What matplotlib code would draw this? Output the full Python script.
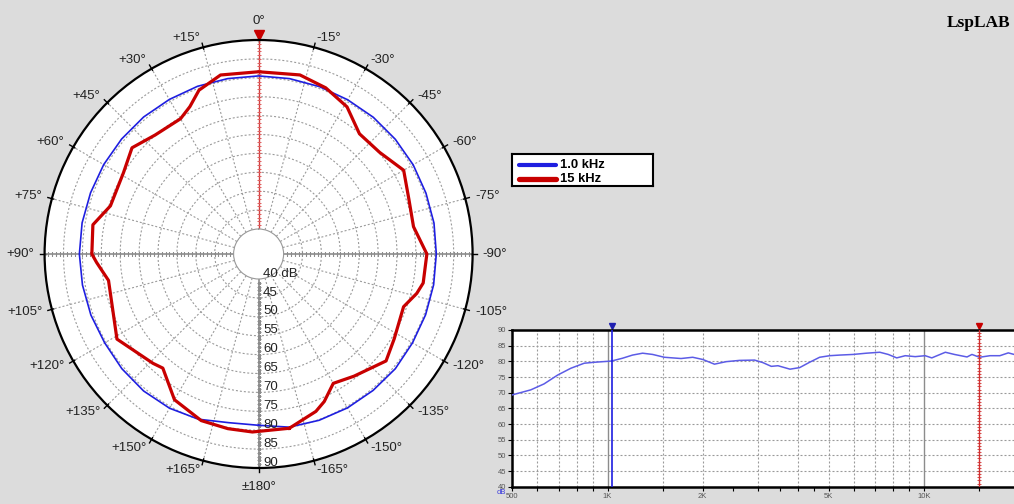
import numpy as np
import matplotlib
matplotlib.use('Agg')
import matplotlib.pyplot as plt
from matplotlib.patches import Ellipse

plt.rcParams['font.family'] = ['Liberation Sans', 'DejaVu Sans']

# polar data (deg, + = left side) and level in dB
blue_angles = [-180, -170, -160, -150, -140, -130, -120, -110, -100, -90, -80, -70, -60,
               -50, -40, -30, -20, -10, 0, 10, 20, 30, 40, 50, 60, 70, 80, 90, 100,
               110, 120, 130, 140, 150, 160, 170]
blue_db = [78.7, 79.9, 80.2, 80.4, 80.5, 80.6, 80.4, 80.4, 80.4, 80.4, 80.5, 80.5, 80.6,
           80.6, 80.6, 80.5, 80.5, 80.5, 80.5, 80.5, 80.6, 80.6, 80.7, 80.7, 80.7, 80.7,
           80.8, 80.8, 80.7, 80.6, 80.4, 80.6, 80.7, 80.5, 79.9, 78.7]

red_angles = [-170, -160, -156, -150, -142, -130, -122, -110, -104, -100, -90, -80, -70,
              -60, -50, -40, -31, -22, -13, 0, 12, 20, 25, 30, 41, 50, 59, 72, 80, 90,
              93, 100, 121, 136, 140, 150, 161, 170, 178]
red_db = [80.2, 77.7, 76.1, 72.9, 74.4, 77.4, 75.7, 74.2, 76.5, 77.6, 77.9, 75.0, 75.7,
          77.7, 75.2, 74.9, 78.8, 80.8, 82.0, 81.6, 81.8, 79.5, 76.4, 74.7, 75.1, 77.1,
          75.1, 74.6, 77.9, 77.5, 76.3, 73.7, 77.1, 73.6, 72.8, 77.9, 80.0, 80.3, 80.5]

db_rings = [45, 50, 55, 60, 65, 70, 75, 80, 85]
db_labels = ['40 dB', '45', '50', '55', '60', '65', '70', '75', '80', '85', '90']
db_label_vals = [40, 45, 50, 55, 60, 65, 70, 75, 80, 85, 90]
angle_ticks = list(range(-165, 181, 15))

legend_labels = ['1.0 kHz', '15 kHz']

# frequency response (Hz, dB)
freq = [500, 572, 630, 695, 766, 844, 908, 1000, 1030, 1116, 1200, 1291, 1389, 1512,
        1708, 1859, 2000, 2178, 2373, 2613, 2917, 3098, 3295, 3459, 3776, 4050, 4354,
        4685, 5042, 5424, 5975, 6588, 7261, 7720, 8212, 8736, 9397, 10100, 10600, 11700,
        12500, 13700, 14200, 15000, 16200, 17400, 18500, 19300, 20000]
resp = [69.3, 70.9, 72.8, 75.6, 77.8, 79.4, 79.7, 80.0, 80.1, 81.0, 82.0, 82.6, 82.2, 81.3,
        80.9, 81.3, 80.6, 79.1, 79.9, 80.3, 80.4, 79.6, 78.4, 78.6, 77.5, 78.0, 79.7,
        81.3, 81.8, 82.0, 82.2, 82.6, 82.9, 82.2, 81.1, 81.8, 81.5, 81.8, 81.1, 82.9,
        82.2, 81.4, 82.2, 81.3, 81.8, 81.8, 82.7, 82.2, 82.4]
cursor_blue = 1030
cursor_red = 15000
freq_major = [500, 1000, 2000, 5000, 10000, 20000]
freq_major_labels = ['500', '1K', '2K', '5K', '10K', 'Hz']
freq_minor = [600, 700, 800, 900, 1500, 2500, 3000, 3500, 4000, 4500,
              6000, 7000, 8000, 9000, 15000]
grid_dashed = [600, 700, 800, 900, 1500, 2000, 3000, 4000, 5000, 6000, 7000, 8000, 9000]
grid_solid = [1000, 10000]
resp_db_ticks = [40, 45, 50, 55, 60, 65, 70, 75, 80, 85, 90]

BG = '#dcdcdc'
GRID = '#9a9a9a'
RED = '#c80000'
BLUE = '#1e1ee0'
dash = (0, (1.8, 1.8))

fig = plt.figure(figsize=(10.14, 5.04), dpi=100, facecolor=BG)

# white hole in the middle of the polar plot
fig.add_artist(Ellipse((258.6 / 1014, 1 - 254 / 504), 2 * 25 / 1014, 2 * 25 / 504,
                       transform=fig.transFigure, facecolor='white', edgecolor='none',
                       zorder=-1))

ax = fig.add_axes([0.04398, 0.07143, 0.42209, 0.84921], projection='polar')
ax.set_theta_zero_location('N')
ax.set_theta_direction(1)
ax.set_rlim(40, 90)
ax.set_rorigin(33.386)
ax.set_xticks([])
ax.set_yticks([])
ax.grid(False)
ax.spines['polar'].set_color('black')
ax.spines['polar'].set_linewidth(1.6)
ax.spines['inner'].set_color('#999999')
ax.spines['inner'].set_linewidth(0.8)

th = np.linspace(0, 2 * np.pi, 721)
for d in db_rings:
    ax.plot(th, np.full_like(th, d), color=GRID, lw=0.8, ls=dash)
for a in range(0, 360, 15):
    r = np.deg2rad(a)
    if a % 90:
        ax.plot([r, r], [40, 90], color=GRID, lw=0.8, ls=dash)
    ax.plot([r, r], [89.5, 91.1], color='black', lw=1, clip_on=False)

ticks_r = np.arange(41, 90)
for a, mk in [(90, '|'), (270, '|'), (180, '_')]:
    r = np.deg2rad(a)
    ax.plot([r, r], [40, 90], color='#8c8c8c', lw=1.2)
    ax.plot(np.full_like(ticks_r, r, dtype=float), ticks_r, ls='none', marker=mk,
            ms=3.5, mew=0.8, color='#8c8c8c')
ax.plot([0, 0], [40, 90], color='#d04040', lw=1.0)
ax.plot(np.zeros_like(ticks_r, dtype=float), ticks_r, ls='none', marker='_', ms=3.5,
        mew=0.7, color='#e06060')
ax.plot([0], [91.4], marker='v', ms=6.5, color=RED, clip_on=False)

b_t = np.deg2rad(blue_angles + [blue_angles[0] + 360])
b_r = blue_db + [blue_db[0]]
ax.plot(b_t, b_r, color=BLUE, lw=1.2, zorder=5)
r_t = np.deg2rad(red_angles + [red_angles[0] + 360])
r_r = red_db + [red_db[0]]
ax.plot(r_t, r_r, color=RED, lw=2.3, zorder=6)

for v, lab in zip(db_label_vals, db_labels):
    ax.annotate(lab, xy=(np.pi, v), xytext=(3.3, -0.5), textcoords='offset points',
                ha='left', va='bottom', fontsize=9.5, color='#222222', zorder=7)

for a in angle_ticks:
    r = np.deg2rad(a)
    if a == 0:
        ax.text(r, 95.0, '0°', ha='center', va='center', fontsize=9.5, color='#222222')
    elif a == 180:
        ax.text(r, 95.0, '±180°', ha='center', va='center', fontsize=9.5, color='#222222')
    elif a > 0:
        ax.text(r, 92.65, '+%d°' % a, ha='right', va='center', fontsize=9.5, color='#222222')
    else:
        ax.text(r, 92.65, '-%d°' % -a, ha='left', va='center', fontsize=9.5, color='#222222')

# legend box
lax = fig.add_axes([511.7 / 1014, 1 - 185.7 / 504, 141 / 1014, 31.7 / 504])
lax.set_xlim(0, 1)
lax.set_ylim(0, 1)
lax.set_xticks([])
lax.set_yticks([])
for s in lax.spines.values():
    s.set_linewidth(1.5)
    s.set_color('black')
for yy, col, lw, lab in [(0.66, BLUE, 3.0, legend_labels[0]), (0.22, RED, 3.8, legend_labels[1])]:
    lax.plot([0.05, 0.315], [yy, yy], color=col, lw=lw, solid_capstyle='round')
    lax.text(0.34, yy, lab, fontsize=9.4, fontweight='bold', va='center', ha='left')

fig.text(1010 / 1014, 1 - 23 / 504, 'LspLAB', ha='right', va='center',
         family=['Liberation Serif', 'DejaVu Serif'], fontweight='bold', fontsize=12.5)

# frequency response
ax2 = fig.add_axes([512.3 / 1014, 17.3 / 504, (1019 - 512.3) / 1014, 156.7 / 504])
ax2.set_xscale('log')
ax2.set_xlim(500, 20000)
ax2.set_ylim(40, 90)
for d in resp_db_ticks[1:-1]:
    ax2.axhline(d, color=GRID, lw=0.8, ls=dash)
for f in grid_dashed:
    ax2.axvline(f, color=GRID, lw=0.8, ls=dash)
for f in grid_solid:
    ax2.axvline(f, color='#8c8c8c', lw=1.0)
ax2.plot(freq, resp, color='#5c5ce6', lw=1.1, zorder=4)
ax2.axvline(cursor_blue, color=BLUE, lw=1.2, zorder=5)
ax2.plot([cursor_blue], [91.3], marker='v', ms=5, color='#2020b0', clip_on=False)
ax2.axvline(cursor_red, color='#d03030', lw=1.0, zorder=5)
ax2.plot(np.full(49, cursor_red), np.arange(41, 90), ls='none', marker='_', ms=2.5,
         mew=0.6, color='#d03030', zorder=5)
ax2.plot([cursor_red], [91.3], marker='v', ms=5, color=RED, clip_on=False)
ax2.set_xticks(freq_major)
ax2.set_xticklabels(freq_major_labels)
ax2.set_xticks(freq_minor, minor=True)
ax2.xaxis.set_minor_formatter(plt.NullFormatter())
ax2.set_yticks(resp_db_ticks)
ax2.tick_params(axis='both', which='both', direction='out', length=3, width=0.8,
                labelsize=5.5, labelcolor='#555555', pad=1.5)
for s in ['top', 'bottom', 'left']:
    ax2.spines[s].set_linewidth(1.8)
ax2.spines['right'].set_visible(False)
fig.text(497 / 1014, 1 - 493 / 504, 'dB', fontsize=5.5, color='#3c3cdc', ha='left', va='center')

fig.savefig('out.png', dpi=100, facecolor=BG)
